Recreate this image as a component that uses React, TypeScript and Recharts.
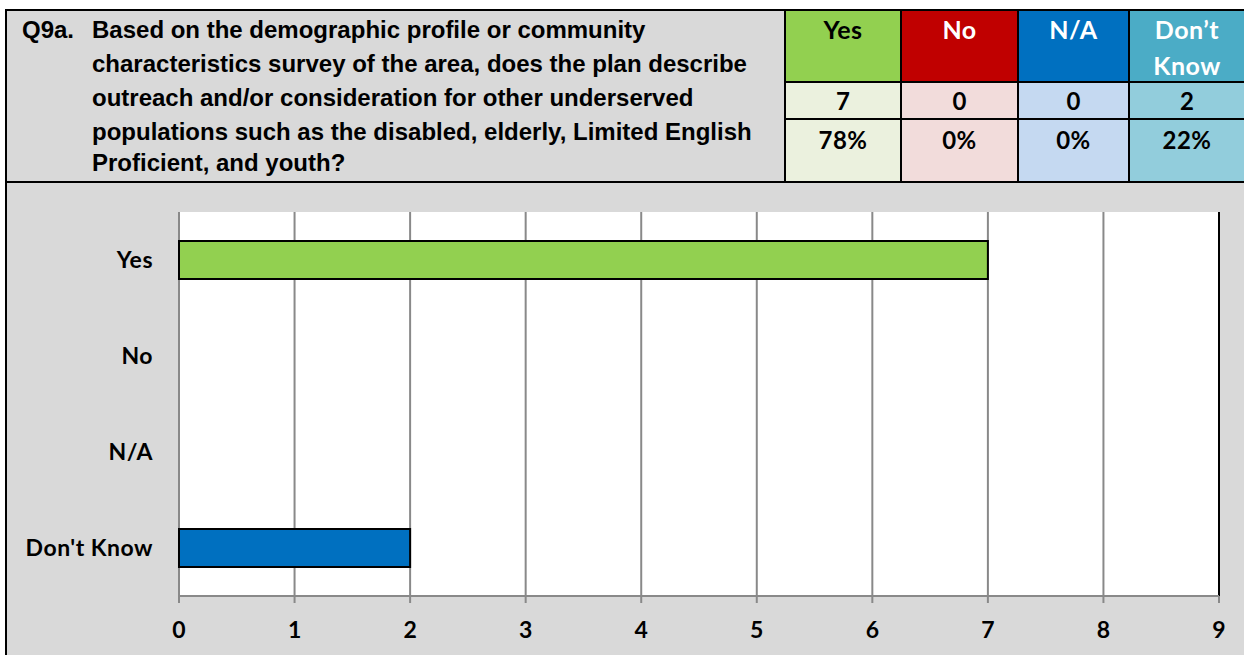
import React from 'react';
import { BarChart, Bar, XAxis, YAxis, CartesianGrid, Cell, ReferenceLine } from 'recharts';

const categories = ['Yes', 'No', 'N/A', "Don't Know"];
const counts = [7, 0, 0, 2];
const barColors = ['#92d050', '#c00000', '#0070c0', '#0070c0'];

const headerLabels = [['Yes'], ['No'], ['N/A'], ['Don\u2019t', 'Know']];
const percentLabels = ['78%', '0%', '0%', '22%'];
const headerColors = ['#92d050', '#c00000', '#0070c0', '#4bacc6'];
const headerTextColors = ['#000', '#fff', '#fff', '#fff'];
const cellColors = ['#ebf1de', '#f2dcdb', '#c5d9f1', '#92cddc'];

const xTicks = [0, 1, 2, 3, 4, 5, 6, 7, 8, 9];
const boundaryTicks = [0, 1, 2, 3, 4];

const questionNumber = 'Q9a.';
const questionLines = [
  'Based on the demographic profile or community',
  'characteristics survey of the area, does the plan describe',
  'outreach and/or consideration for other underserved',
  'populations such as the disabled, elderly, Limited English',
  'Proficient, and youth?',
];

const data = categories.map((c, i) => ({ name: c, value: counts[i] }));

const colEdges = [785, 901, 1018, 1129, 1245];
const rowEdges = [10, 82, 119, 182];

const GRAY = '#898989';
const cellFont = "Lato, 'Open Sans', sans-serif";

export default function App() {
  const cells: React.ReactNode[] = [];
  for (let c = 0; c < 4; c++) {
    const left = colEdges[c];
    const w = colEdges[c + 1] - colEdges[c];
    cells.push(
      <div key={'h' + c} style={{ position: 'absolute', left, top: rowEdges[0], width: w, height: rowEdges[1] - rowEdges[0], background: headerColors[c], color: headerTextColors[c], textAlign: 'center', fontFamily: cellFont, fontWeight: 700, fontSize: 25, lineHeight: '36px', paddingTop: 1, boxSizing: 'border-box', letterSpacing: 0.5 }}>
        {headerLabels[c].map((l, k) => <div key={k}>{l}</div>)}
      </div>
    );
    cells.push(
      <div key={'c' + c} style={{ position: 'absolute', left, top: rowEdges[1], width: w, height: rowEdges[2] - rowEdges[1], background: cellColors[c], color: '#000', textAlign: 'center', fontFamily: cellFont, fontWeight: 700, fontSize: 24, lineHeight: (rowEdges[2] - rowEdges[1]) + 'px' }}>
        {counts[c]}
      </div>
    );
    cells.push(
      <div key={'p' + c} style={{ position: 'absolute', left, top: rowEdges[2], width: w, height: rowEdges[3] - rowEdges[2], background: cellColors[c], color: '#000', textAlign: 'center', fontFamily: cellFont, fontWeight: 700, fontSize: 24, lineHeight: '30px', paddingTop: 6, boxSizing: 'border-box', letterSpacing: 0.5 }}>
        {percentLabels[c]}
      </div>
    );
  }
  const lines: React.ReactNode[] = [];
  rowEdges.forEach((y, i) => {
    const full = i === 0 || i === 3;
    lines.push(<div key={'hl' + i} style={{ position: 'absolute', left: full ? 5 : 785, top: y - 1, width: 1245 - (full ? 5 : 785), height: 2, background: '#000' }} />);
  });
  colEdges.forEach((x, i) => {
    lines.push(<div key={'vl' + i} style={{ position: 'absolute', left: x - 1, top: 10, width: 2, height: 172, background: '#000' }} />);
  });
  lines.push(<div key="left" style={{ position: 'absolute', left: 5, top: 9, width: 2, height: 650, background: '#000' }} />);

  return (
    <div style={{ position: 'absolute', left: 0, top: 0, width: 1244, height: 655, background: '#fff', overflow: 'hidden' }}>
      <div style={{ position: 'absolute', left: 5, top: 10, width: 780, height: 172, background: '#d9d9d9' }} />
      <div style={{ position: 'absolute', left: 5, top: 182, width: 1240, height: 480, background: '#d9d9d9' }} />
      <div style={{ position: 'absolute', left: 22, top: 13, width: 760, fontFamily: "'Liberation Sans', Arial, sans-serif", fontWeight: 700, fontSize: 24, color: '#000', whiteSpace: 'nowrap' }}>
        {questionLines.map((l, i) => (
          <div key={i} style={{ position: 'relative', paddingLeft: 70, height: i === 4 ? 30 : 34, lineHeight: i === 4 ? '28px' : '34px' }}>
            {i === 0 ? <span style={{ position: 'absolute', left: 0, top: 0 }}>{questionNumber}</span> : null}
            {l}
          </div>
        ))}
      </div>
      {cells}
      {lines}
      <div style={{ position: 'absolute', left: 7, top: 183 }}>
        <BarChart
          width={1237}
          height={472}
          data={data}
          layout="vertical"
          margin={{ top: 29, right: 25, bottom: 0, left: 0 }}
          barSize={38}
        >
          <CartesianGrid horizontal={false} vertical={true} stroke={GRAY} strokeWidth={2} fill="#fff" fillOpacity={1} />
          <XAxis
            type="number"
            domain={[0, 9]}
            ticks={xTicks}
            interval={0}
            height={59}
            axisLine={{ stroke: GRAY, strokeWidth: 2 }}
            tickLine={{ stroke: GRAY, strokeWidth: 2 }}
            tickSize={7}
            tickMargin={19}
            tick={{ fill: '#000', fontSize: 23, fontWeight: 700, fontFamily: cellFont }}
          />
          <XAxis
            xAxisId="top"
            orientation="top"
            type="number"
            domain={[0, 9]}
            height={0}
            tick={false}
            tickLine={false}
            axisLine={{ stroke: '#000', strokeWidth: 2 }}
          />
          <YAxis
            yAxisId={0}
            type="number"
            domain={[0, 4]}
            ticks={boundaryTicks}
            interval={0}
            width={0}
            tick={false}
            tickSize={7}
            tickLine={{ stroke: GRAY, strokeWidth: 2 }}
            axisLine={{ stroke: GRAY, strokeWidth: 2 }}
          />
          <YAxis
            yAxisId="cat"
            type="category"
            dataKey="name"
            width={172}
            axisLine={false}
            tickLine={false}
            tickSize={6}
            tickMargin={20}
            tick={{ fill: '#000', fontSize: 23, fontWeight: 700, fontFamily: cellFont, letterSpacing: 0.5 }}
          />
          <ReferenceLine x={9} stroke="#000" strokeWidth={2} />
          <Bar dataKey="value" yAxisId="cat" stroke="#000" strokeWidth={2} isAnimationActive={false}>
            {data.map((d, i) => (
              <Cell key={i} fill={barColors[i]} />
            ))}
          </Bar>
        </BarChart>
      </div>
    </div>
  );
}
